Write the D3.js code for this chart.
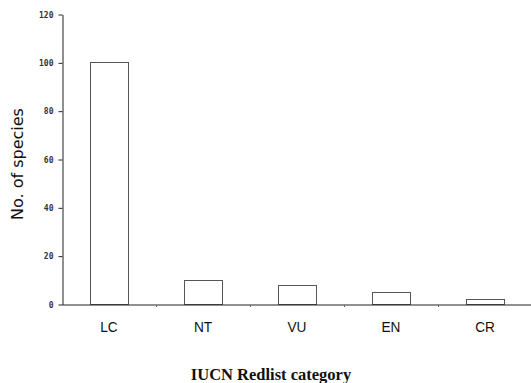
<!DOCTYPE html>
<html><head><meta charset="utf-8">
<script src="https://cdn.jsdelivr.net/npm/d3@7"></script>
<style>body{margin:0;background:#fff}svg{display:block}</style>
</head><body>
<script>
const categories = ["LC","NT","VU","EN","CR"];
const values = [100,10,8,5,2];
const yTicks = [0,20,40,60,80,100,120];

const W=531,H=383;
const svg=d3.select("body").append("svg").attr("width",W).attr("height",H);
const xb=d3.scaleBand().domain(categories).range([62,532]);
const y=d3.scaleLinear().domain([0,120]).range([304,14]);

// bars
svg.selectAll("rect.bar").data(values).join("rect")
  .attr("x",(d,i)=>Math.round(xb(categories[i])+xb.bandwidth()/2-19)+0.5)
  .attr("y",d=>Math.round(y(d))+0.5)
  .attr("width",38)
  .attr("height",d=>304-Math.round(y(d)))
  .attr("fill","#fff").attr("stroke","#555").attr("stroke-width",1);

// y axis
const ya=svg.append("g").attr("transform","translate(62.5,0.5)")
  .call(d3.axisLeft(y).tickValues(yTicks).tickSize(4).tickSizeOuter(0));
ya.select(".domain").attr("stroke","#222");
ya.selectAll(".tick line").attr("stroke","#222");
ya.selectAll(".tick text").attr("x",-9).attr("font-family","DejaVu Sans Mono, monospace")
  .attr("font-size",8).attr("font-weight","bold").attr("fill","#333");

// x axis
const xa=svg.append("g").attr("transform","translate(0,304.5)")
  .call(d3.axisBottom(xb).tickSize(0).tickSizeOuter(0));
xa.select(".domain").attr("stroke","#222");
xa.selectAll(".tick text").attr("dy",0).attr("y",28)
  .attr("transform","scale(0.88,1)")
  .attr("font-family","Liberation Sans, Arial, sans-serif")
  .attr("font-size",15.5).attr("fill","#111");
// boundary ticks
svg.append("g").selectAll("line").data(categories.slice(1)).join("line")
  .attr("x1",d=>Math.round(xb(d))+0.5).attr("x2",d=>Math.round(xb(d))+0.5)
  .attr("y1",305).attr("y2",307).attr("stroke","#666");

// titles
svg.append("text").attr("x",271).attr("y",380).attr("text-anchor","middle")
  .attr("font-family","Liberation Serif, serif").attr("font-weight","bold")
  .attr("font-size",16.5).attr("fill","#111").text("IUCN Redlist category");
svg.append("text").attr("transform","translate(23,164) rotate(-90)").attr("text-anchor","middle")
  .attr("font-family","DejaVu Sans, Verdana, sans-serif")
  .attr("font-size",16).attr("fill","#111").text("No. of species");
</script>
</body></html>
